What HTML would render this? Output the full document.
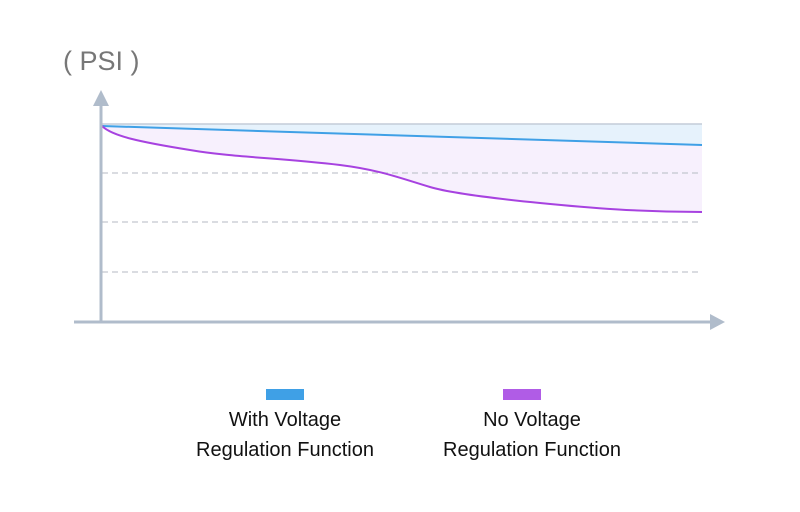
<!DOCTYPE html>
<html><head><style>
body{margin:0;background:#fff;width:800px;height:507px;overflow:hidden;font-family:"Liberation Sans",sans-serif}
</style></head><body>
<svg width="800" height="507" xmlns="http://www.w3.org/2000/svg">
<text x="63" y="70" font-size="27" fill="#777" font-family="Liberation Sans, sans-serif">( PSI )</text>
<path d="M102,124 L702,124 L702,145 L102,126 Z" fill="#e6f2fc"/>
<path d="M102,126 L702,145 L702,212 C640,212 590,208 540,203 C490,198 450,193 430,187 C400,178 380,170 340,165 C280,158 230,157 190,150 C140,142 112,136 102,126 Z" fill="#f7f0fd"/>
<line x1="102" y1="124" x2="702" y2="124" stroke="#c3ccd8" stroke-width="1.5"/>
<g stroke="#c3c7cf" stroke-width="1.2" stroke-dasharray="6,4">
<line x1="102" y1="173" x2="702" y2="173"/>
<line x1="102" y1="222" x2="702" y2="222"/>
<line x1="102" y1="272" x2="702" y2="272"/>
</g>
<path d="M102,126 L702,145" stroke="#3fa0e6" stroke-width="2" fill="none"/>
<path d="M102,126 C112,136 140,142 190,150 C230,157 280,158 340,165 C380,170 400,178 430,187 C450,193 490,198 540,203 C590,208 640,212 702,212" stroke="#a742e0" stroke-width="2" fill="none"/>
<line x1="101" y1="104" x2="101" y2="322" stroke="#b0bccb" stroke-width="3"/>
<polygon points="101,90 93,106 109,106" fill="#b0bccb"/>
<line x1="74" y1="322" x2="712" y2="322" stroke="#b0bccb" stroke-width="3"/>
<polygon points="725,322 710,314 710,330" fill="#b0bccb"/>
<rect x="266" y="389" width="38" height="11" fill="#3fa0e6"/>
<rect x="503" y="389" width="38" height="11" fill="#b05ce6"/>
<g font-size="20" fill="#111" text-anchor="middle" font-family="Liberation Sans, sans-serif">
<text x="285" y="426">With Voltage</text>
<text x="285" y="456">Regulation Function</text>
<text x="532" y="426">No Voltage</text>
<text x="532" y="456">Regulation Function</text>
</g>
</svg>
</body></html>
